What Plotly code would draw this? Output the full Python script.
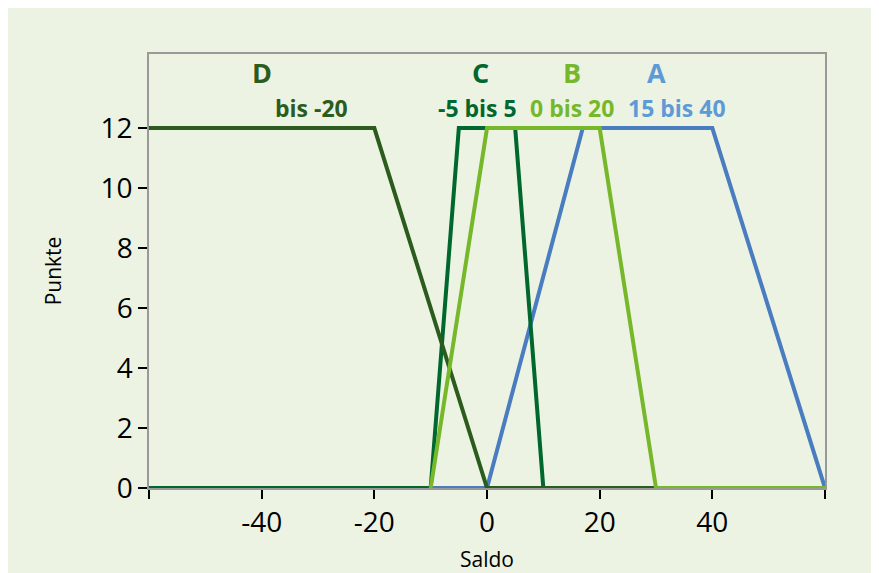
import plotly.graph_objects as go

# Saldo -> Punkte, Stützpunkte je Klasse
a_x = [-60, 0, 17, 40, 60]
a_y = [0, 0, 12, 12, 0]
d_x = [-60, -20, 0, 60]
d_y = [12, 12, 0, 0]
c_x = [-60, -10, -5, 5, 10, 60]
c_y = [0, 0, 12, 12, 0, 0]
b_x = [-10, 0, 20, 30, 60]
b_y = [0, 12, 12, 0, 0]

x_ticks = [-60, -40, -20, 0, 20, 40, 60]
x_labels = ['', '-40', '-20', '0', '20', '40', '']
y_ticks = [0, 2, 4, 6, 8, 10, 12]

BG = '#EDF3E3'
COL_A = '#4A7CC0'
COL_B = '#76B82A'
COL_C = '#00672E'
COL_D = '#2B5C1E'

fig = go.Figure()
for xs, ys, col in [(a_x, a_y, COL_A), (c_x, c_y, COL_C),
                    (d_x, d_y, COL_D), (b_x, b_y, COL_B)]:
    fig.add_trace(go.Scatter(x=xs, y=ys, mode='lines',
                             line=dict(color=col, width=4),
                             hoverinfo='skip', showlegend=False))

# Beschriftungen der Klassen
labels = [
    (-40, 'D', COL_D, 13.87, 27), (-31.2, 'bis -20', COL_D, 12.67, 23),
    (-1.1, 'C', COL_C, 13.87, 27), (-1.6, '-5 bis 5', COL_C, 12.67, 23),
    (15.1, 'B', COL_B, 13.87, 27), (15.1, '0 bis 20', COL_B, 12.67, 23),
    (30, 'A', '#5E9BD6', 13.87, 27), (33.7, '15 bis 40', '#5E9BD6', 12.67, 23),
]
for x, txt, col, y, size in labels:
    fig.add_annotation(x=x, y=y, text='<b>%s</b>' % txt, showarrow=False,
                       font=dict(family='Open Sans', size=size, color=col))

# x-Achsentitel als Annotation (sonst zu nah an den Ticks)
fig.add_annotation(x=0.5, y=(488 - 559) / 434, xref='paper', yref='paper',
                   text='Saldo', showarrow=False, yanchor='middle',
                   font=dict(family='Open Sans', size=21, color='black'))

fig.update_layout(
    width=871, height=565,
    margin=dict(l=141, r=54, t=46, b=85),
    paper_bgcolor=BG,
    plot_bgcolor=BG,
    font=dict(family='Open Sans', color='black'),
)
fig.update_xaxes(range=[-60, 60], tickvals=x_ticks, ticktext=x_labels,
                 ticks='outside', ticklen=9, tickwidth=2, tickcolor='black',
                 showgrid=False, zeroline=False, showline=True, mirror=True,
                 linecolor='#999999', linewidth=1.5, automargin=False,
                 tickfont=dict(size=28, family='Open Sans'))
fig.update_yaxes(range=[0, 14.47], tickvals=y_ticks,
                 ticks='outside', ticklen=9, tickwidth=2, tickcolor='black',
                 showgrid=False, zeroline=False, showline=True, mirror=True,
                 linecolor='#999999', linewidth=1.5, automargin=False,
                 tickfont=dict(size=28, family='Open Sans'),
                 title=dict(text='Punkte', font=dict(size=21), standoff=33))

fig.write_html('out.html')
